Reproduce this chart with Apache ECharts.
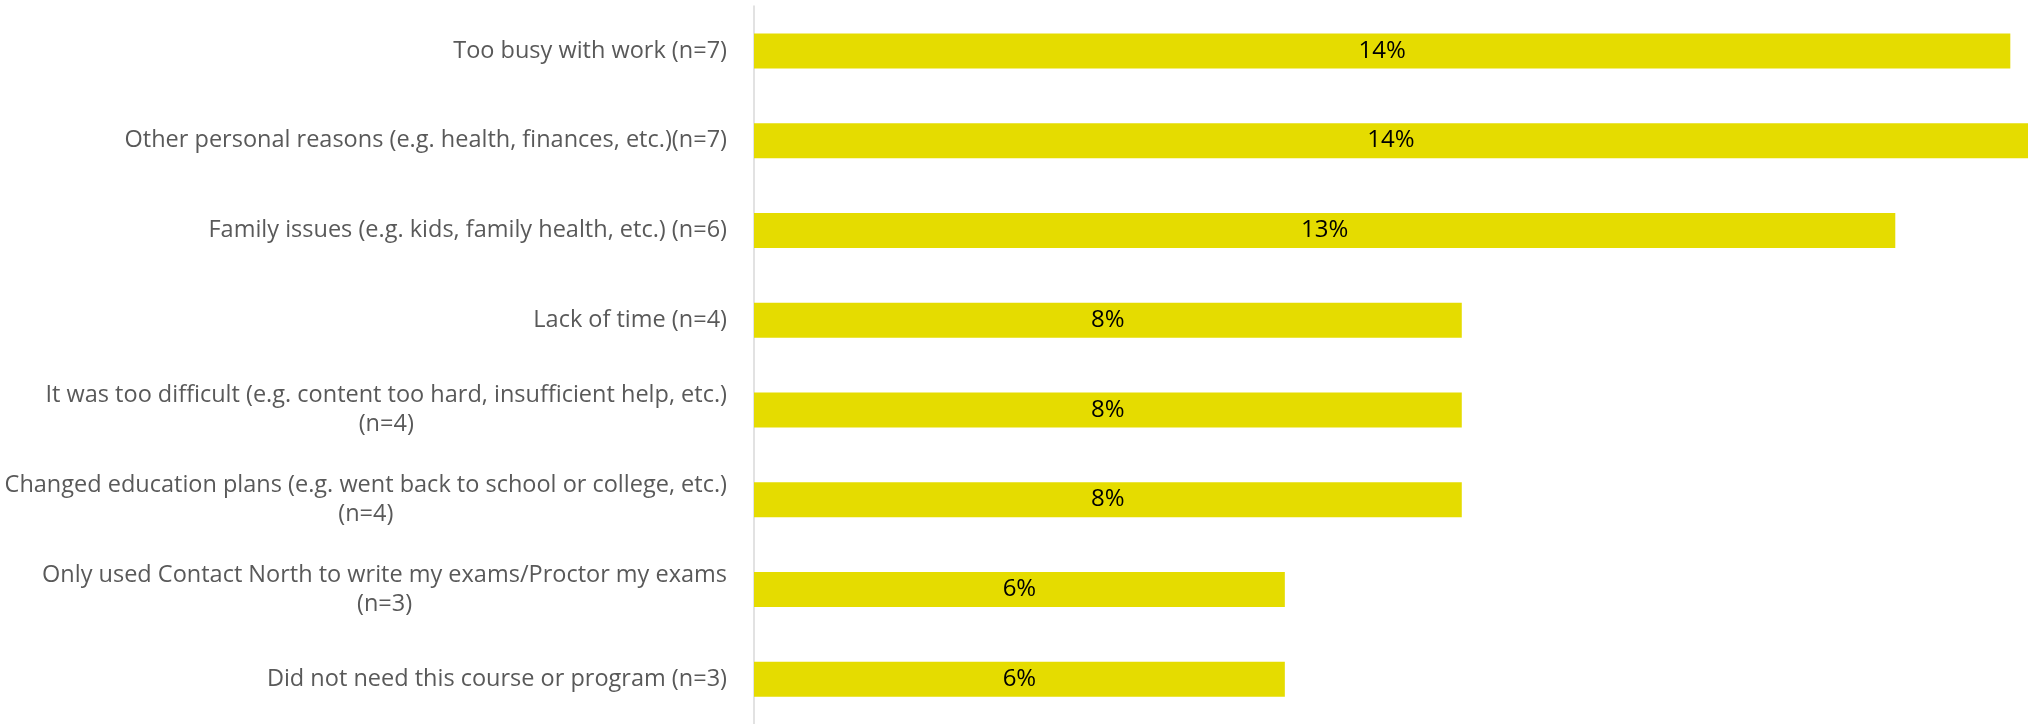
<!DOCTYPE html>
<html>
<head>
<meta charset="utf-8">
<script src="https://cdn.jsdelivr.net/npm/echarts@6/dist/echarts.min.js"></script>
<style>
  html, body { margin: 0; padding: 0; background: #fff; }
  #chart { width: 2028px; height: 724px; }
</style>
</head>
<body>
<div id="chart"></div>
<script>
  // reasons, top to bottom
  var reasons = [
    'Too busy with work (n=7)',
    'Other personal reasons (e.g. health, finances, etc.)(n=7)',
    'Family issues (e.g. kids, family health, etc.) (n=6)',
    'Lack of time (n=4)',
    'It was too difficult (e.g. content too hard, insufficient help, etc.)\n(n=4)',
    'Changed education plans (e.g. went back to school or college, etc.)\n(n=4)',
    'Only used Contact North to write my exams/Proctor my exams\n(n=3)',
    'Did not need this course or program (n=3)'
  ];
  // percent of respondents
  var percents = [14.2, 14.4, 12.9, 8.0, 8.0, 8.0, 6.0, 6.0];

  var chart = echarts.init(document.getElementById('chart'));
  var font = '"Open Sans", "Noto Sans", sans-serif';

  var option = {
    animation: false,
    grid: { left: 754, right: 0, top: 6, bottom: 0 },
    xAxis: {
      type: 'value',
      min: 0,
      max: 14.4,
      show: false
    },
    yAxis: {
      type: 'category',
      inverse: true,
      data: reasons,
      axisLine: { lineStyle: { color: '#d9d9d9', width: 1.5 } },
      axisTick: { length: 7, lineStyle: { color: '#d9d9d9', width: 1.5 } },
      axisLabel: {
        margin: 27,
        formatter: function (v) {
          return v.split('\n').map(function (s) { return '{c|' + s + '}'; }).join('\n');
        },
        rich: {
          c: { align: 'center', color: '#595959', fontSize: 23.5, fontFamily: font, lineHeight: 29 }
        }
      }
    },
    series: [{
      type: 'bar',
      data: percents,
      barWidth: 35,
      itemStyle: { color: '#e5dc00' },
      label: {
        show: true,
        position: 'inside',
        color: '#000',
        fontSize: 24,
        fontFamily: font,
        formatter: function (p) { return Math.round(p.value) + '%'; }
      }
    }]
  };
  chart.setOption(option);
  window.addEventListener('resize', function () {
    chart.resize();
  });
</script>
</body>
</html>
